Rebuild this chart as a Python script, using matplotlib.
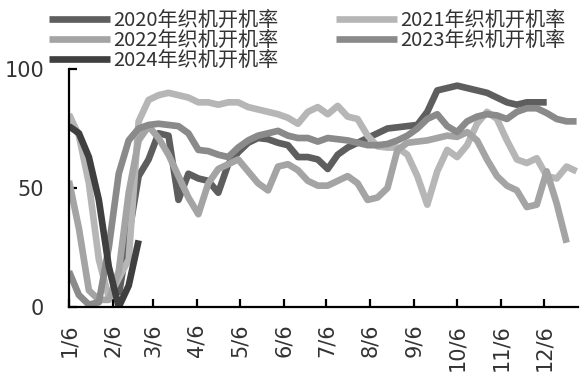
import numpy as np
import pandas as pd
import matplotlib
matplotlib.use('Agg')
import matplotlib.pyplot as plt

nan = np.nan

# weekly dates, one common calendar year for all years
weeks = pd.date_range('2023-01-06', periods=52, freq='7D')

labels = ['2020年织机开机率', '2021年织机开机率', '2022年织机开机率',
          '2023年织机开机率', '2024年织机开机率']

rate_2020 = [nan, nan, nan, nan, nan, 5, 30, 55, 62, 73,
             72, 45, 56, 54, 53, 48, 60, 65, 69, 71,
             70.5, 69, 68, 63, 63, 62, 58, 64, 67, 69,
             71, 73, 75, 75.5, 76, 76.5, 82, 91, 92, 93,
             92, 91, 90, 88, 86, 85, 86, 86, 86, nan,
             nan, nan]
rate_2021 = [81, 72, 52, 20, 4, 12, 20, 78, 87, 89,
             90, 89, 88, 86, 86, 85, 86, 86, 84, 83,
             82, 81, 79.5, 77, 82, 84, 81, 84.5, 80, 79,
             72, 67.5, 67, 67, 64, 55, 43, 57, 66, 63,
             68, 77, 82, 79, 70, 62, 60.5, 62.5, 55, 54,
             59, 57]
rate_2022 = [53, 33, 7, 3, 3, 15, 48, 70, 76, 71,
             64, 55, 46, 39, 52, 58, 60, 62, 57, 52,
             49, 59, 60, 57.5, 53, 51, 51, 53, 55, 52,
             45, 46, 50, 66, 69, 69.5, 70, 71, 72, 71.5,
             73.5, 70, 62, 55, 51, 49, 42, 43, 57, 43.5,
             27, nan]
rate_2023 = [15, 5, 1, 2, 25, 56, 70, 75, 76.5, 77,
             76.5, 76, 73, 66, 65.5, 64, 63, 67, 70, 72,
             73, 74, 72, 71, 71, 69.5, 71, 70.5, 70, 69,
             68, 68, 68.5, 70, 72, 75, 79, 81, 76, 73.5,
             78, 80, 81, 80.5, 79, 82, 83.5, 83.5, 81.5, 79,
             78, 78]
rate_2024 = [76, 73, 63, 45, 17, 0, 9, 28] + [nan] * 44

series = [rate_2020, rate_2021, rate_2022, rate_2023, rate_2024]
colors = ['#5e5e5e', '#b6b6b6', '#a4a4a4', '#8a8a8a', '#3f3f3f']

# the 6th of every month
month_ticks = pd.date_range('2023-01-01', periods=12, freq='MS') + pd.Timedelta(days=5)
month_labels = [str(m) + '/6' for m in range(1, 13)]

fig = plt.figure(figsize=(5.88, 3.89), dpi=100)
ax = fig.add_axes([0.1173, 0.2108, 0.8657, 0.6118])

lines = []
for vals, col, lab in zip(series, colors, labels):
    ln, = ax.plot(weeks, vals, color=col, lw=4.8, label=lab, solid_capstyle='butt')
    lines.append(ln)

ax.set_ylim(0, 100)
ax.set_yticks([0, 50, 100])
ax.set_xlim(pd.Timestamp('2023-01-06'), pd.Timestamp('2023-12-30'))
ax.set_xticks(month_ticks)
ax.set_xticklabels(month_labels, rotation=90)

for s in ['top', 'right']:
    ax.spines[s].set_visible(False)
for s in ['left', 'bottom']:
    ax.spines[s].set_linewidth(1.6)

ax.tick_params(axis='both', direction='in', length=6, width=1.6,
               labelsize=15, labelcolor='#333333')
ax.tick_params(axis='x', pad=12)
ax.tick_params(axis='y', pad=18)

order = [0, 2, 4, 1, 3]
leg = fig.legend([lines[i] for i in order], [labels[i] for i in order],
                 ncol=2, loc='upper left', bbox_to_anchor=(0.053, 1.02),
                 frameon=False, handlelength=3.0, handletextpad=0.15,
                 labelspacing=-0.05, columnspacing=2.9,
                 prop={'family': ['Noto Sans CJK SC', 'DejaVu Sans'], 'size': 14.5})
for t in leg.get_texts():
    t.set_color('#333333')

fig.savefig('out.png', dpi=100)
